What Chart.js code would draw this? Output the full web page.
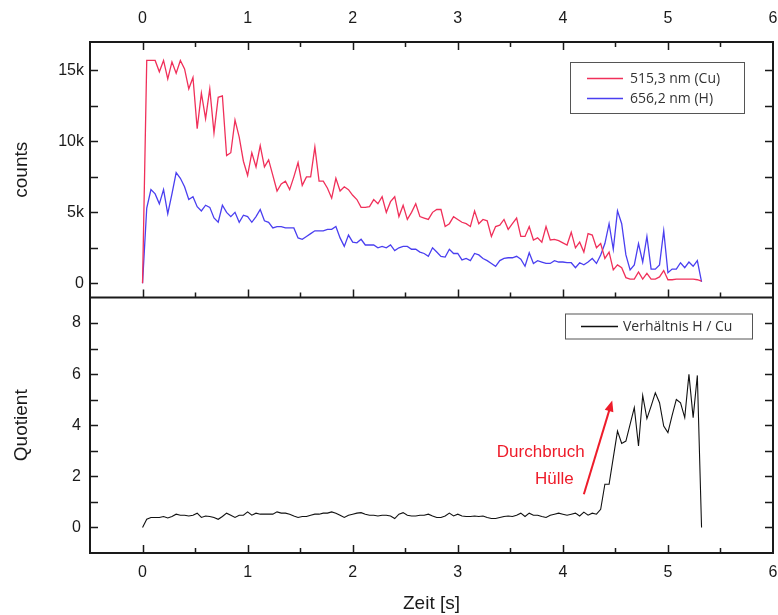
<!DOCTYPE html>
<html>
<head>
<meta charset="utf-8">
<script src="https://cdn.jsdelivr.net/npm/chart.js@4.4.0/dist/chart.umd.min.js"></script>
<style>
  html, body { margin: 0; padding: 0; background: #fff; }
  #wrap { width: 778px; height: 615px; }
</style>
</head>
<body>
<div id="wrap"><canvas id="chart" width="778" height="615"></canvas></div>
<script>
// Zeit in s
const timeSec = [
  0, 0.04, 0.08, 0.12, 0.16, 0.20, 0.24, 0.28, 0.32, 0.36,
  0.40, 0.44, 0.48, 0.52, 0.56, 0.60, 0.64, 0.68, 0.72, 0.76,
  0.80, 0.84, 0.88, 0.92, 0.96, 1.00, 1.04, 1.08, 1.12, 1.16,
  1.20, 1.24, 1.28, 1.32, 1.36, 1.40, 1.44, 1.48, 1.52, 1.56,
  1.60, 1.64, 1.68, 1.72, 1.76, 1.80, 1.84, 1.88, 1.92, 1.96,
  2.00, 2.04, 2.08, 2.12, 2.16, 2.20, 2.24, 2.28, 2.32, 2.36,
  2.40, 2.44, 2.48, 2.52, 2.56, 2.60, 2.64, 2.68, 2.72, 2.76,
  2.80, 2.84, 2.88, 2.92, 2.96, 3.00, 3.04, 3.08, 3.12, 3.16,
  3.20, 3.24, 3.28, 3.32, 3.36, 3.40, 3.44, 3.48, 3.52, 3.56,
  3.60, 3.64, 3.68, 3.72, 3.76, 3.80, 3.84, 3.88, 3.92, 3.96,
  4.00, 4.04, 4.08, 4.12, 4.16, 4.20, 4.24, 4.28, 4.32, 4.36,
  4.40, 4.44, 4.48, 4.52, 4.56, 4.60, 4.64, 4.68, 4.72, 4.76,
  4.80, 4.84, 4.88, 4.92, 4.96, 5.00, 5.04, 5.08, 5.12, 5.16,
  5.20, 5.24, 5.28, 5.32
];

// 515,3 nm (Cu)
const cuCounts = [
  0, 15700, 15700, 15700, 14900, 15700, 14400, 15600, 14800, 15700,
  15100, 13700, 14500, 10900, 13400, 11600, 13700, 10600, 13100, 13200,
  9000, 9200, 11500, 10300, 8600, 7600, 9200, 8200, 9700, 8200,
  8700, 7600, 6500, 7000, 7200, 6600, 7500, 8500, 6900, 7500,
  7500, 9600, 7200, 7200, 6700, 6000, 7400, 6500, 6800, 6600,
  6200, 5900, 5350, 5350, 5400, 5900, 5600, 6100, 5000, 5750,
  6100, 4700, 5500, 4500, 5000, 5600, 4700, 4600, 4500, 5000,
  5200, 5200, 4000, 4200, 4700, 4500, 4300, 4200, 4000, 5100,
  4200, 4500, 4400, 3300, 4000, 4100, 4500, 3800, 4200, 4600,
  3300, 3300, 4000, 3050, 3200, 2900, 4000, 3050, 3100, 3000,
  2850, 2700, 3600, 2500, 2900, 2200, 3500, 3400, 2500, 2800,
  1750, 2200, 950, 1300, 1100, 400, 300, 300, 800, 300,
  700, 300, 300, 450, 900, 250, 250, 300, 300, 300,
  300, 300, 250, 150
];

// 656,2 nm (H)
const hCounts = [
  0, 5300, 6600, 6300, 5600, 6600, 4900, 6300, 7800, 7400,
  6800, 5900, 6100, 5400, 5100, 5500, 5350, 4600, 4300, 5500,
  5000, 4700, 5000, 4300, 4800, 4700, 4300, 4700, 5200, 4400,
  4300, 3900, 4000, 4000, 3900, 3900, 3900, 3200, 3100, 3300,
  3500, 3700, 3700, 3700, 3800, 3800, 4000, 3200, 2600, 3400,
  2900, 2850, 3100, 2700, 2700, 2700, 2500, 2600, 2500, 2700,
  2300, 2500, 2600, 2600, 2400, 2400, 2200, 2100, 1900, 2500,
  2200, 1900, 1850, 2400, 2100, 2100, 1650, 1750, 1600, 2100,
  2000, 1750, 1600, 1400, 1200, 1600, 1750, 1800, 1800, 1900,
  1700, 1200, 2150, 1400, 1600, 1500, 1400, 1400, 1600, 1500,
  1500, 1450, 1450, 1100, 1450, 1300, 1500, 1750, 1400, 2000,
  2800, 4200, 2400, 5100, 4200, 2000, 950, 1300, 2800, 1500,
  3300, 1000, 1000, 1300, 3700, 750, 1000, 1000, 1450, 1100,
  1500, 1200, 1600, 100
];

// Verhältnis H / Cu
const ratioHCu = [
  0, 0.32, 0.39, 0.39, 0.39, 0.43, 0.37, 0.43, 0.52, 0.48,
  0.48, 0.45, 0.48, 0.56, 0.39, 0.45, 0.43, 0.39, 0.32, 0.43,
  0.56, 0.48, 0.39, 0.48, 0.48, 0.61, 0.48, 0.56, 0.52, 0.52,
  0.52, 0.52, 0.61, 0.56, 0.56, 0.52, 0.45, 0.39, 0.43, 0.43,
  0.48, 0.52, 0.52, 0.56, 0.56, 0.61, 0.56, 0.48, 0.39, 0.48,
  0.52, 0.56, 0.58, 0.52, 0.48, 0.48, 0.45, 0.48, 0.48, 0.45,
  0.35, 0.52, 0.58, 0.48, 0.45, 0.45, 0.48, 0.48, 0.52, 0.45,
  0.39, 0.39, 0.45, 0.56, 0.45, 0.52, 0.45, 0.43, 0.43, 0.45,
  0.43, 0.45, 0.39, 0.35, 0.35, 0.39, 0.43, 0.45, 0.43, 0.48,
  0.56, 0.43, 0.56, 0.48, 0.48, 0.43, 0.39, 0.48, 0.52, 0.56,
  0.52, 0.48, 0.52, 0.56, 0.45, 0.60, 0.48, 0.56, 0.52, 0.71,
  1.69, 1.69, 2.73, 3.77, 3.29, 3.38, 4.03, 4.69, 3.19, 5.17,
  4.26, 4.75, 5.27, 4.88, 3.97, 3.71, 4.39, 5.01, 4.88, 4.30,
  5.99, 4.30, 5.95, 0
];

const xTicks = [0, 1, 2, 3, 4, 5, 6];
const xMinorTicks = [-0.5, 0.5, 1.5, 2.5, 3.5, 4.5, 5.5];
const countTicks = [0, 5000, 10000, 15000];
const countMinorTicks = [2500, 7500, 12500];
const ratioTicks = [0, 2, 4, 6, 8];
const ratioMinorTicks = [1, 3, 5, 7];

const seriesNames = ["515,3 nm (Cu)", "656,2 nm (H)", "Verhältnis H / Cu"];
const noteLines = ["Durchbruch", "Hülle"];

const RED = "#f0305a";
const BLUE = "#4a3ff0";
const INK = "#1a1a1a";
const AX_FONT = "'Liberation Sans', Arial, sans-serif";
const LEG_FONT = "'Open Sans', 'DejaVu Sans', sans-serif";

const pts = (ys) => timeSec.map((t, i) => ({ x: t, y: ys[i] }));
const fixTicks = (vals) => (scale) => { scale.ticks = vals.map((v) => ({ value: v })); };
const noPad = (s) => { s.paddingLeft = 0; s.paddingRight = 0; s.paddingTop = 0; s.paddingBottom = 0; };

// Rahmen, Striche nach innen, Legenden, Anmerkung
const decor = {
  id: "decor",
  afterDraw(chart) {
    const { ctx, chartArea: a, scales } = chart;
    const x = scales.x, yc = scales.y, yq = scales.yq;
    const mid = yc.bottom;
    ctx.save();
    ctx.strokeStyle = INK;

    // ticks
    ctx.lineWidth = 1.5;
    ctx.beginPath();
    const xt = (vals, len) => vals.forEach((v) => {
      const px = Math.round(x.getPixelForValue(v)) + 0.5;
      if (px <= a.left + 1 || px >= a.right - 1) return;
      ctx.moveTo(px, a.top); ctx.lineTo(px, a.top + len);
      ctx.moveTo(px, mid); ctx.lineTo(px, mid - len);
      ctx.moveTo(px, a.bottom); ctx.lineTo(px, a.bottom - len);
    });
    xt(xTicks, 8); xt(xMinorTicks, 5);
    const yt = (scale, vals, len) => vals.forEach((v) => {
      const py = Math.round(scale.getPixelForValue(v)) + 0.5;
      ctx.moveTo(a.left, py); ctx.lineTo(a.left + len, py);
      ctx.moveTo(a.right, py); ctx.lineTo(a.right - len, py);
    });
    yt(yc, countTicks, 8); yt(yc, countMinorTicks, 8);
    yt(yq, ratioTicks, 8); yt(yq, ratioMinorTicks, 8);
    ctx.stroke();

    // frame
    ctx.lineWidth = 2;
    ctx.strokeRect(a.left, a.top, a.right - a.left, a.bottom - a.top);
    ctx.beginPath();
    ctx.moveTo(a.left, mid); ctx.lineTo(a.right, mid);
    ctx.stroke();

    // legends
    const legend = (x0, y0, w, h, rows) => {
      ctx.fillStyle = "#fff";
      ctx.fillRect(x0, y0, w, h);
      ctx.strokeStyle = "#555";
      ctx.lineWidth = 1;
      ctx.strokeRect(x0 + 0.5, y0 + 0.5, w, h);
      ctx.font = "14px " + LEG_FONT;
      ctx.textBaseline = "middle";
      ctx.textAlign = "left";
      rows.forEach((r) => {
        const ly = Math.round(y0 + r.dy) + 0.5;
        ctx.strokeStyle = r.color;
        ctx.lineWidth = 1.4;
        ctx.beginPath();
        ctx.moveTo(x0 + r.l0, ly); ctx.lineTo(x0 + r.l1, ly);
        ctx.stroke();
        ctx.fillStyle = "#333";
        ctx.fillText(r.text, x0 + r.tx, ly + 1);
      });
    };
    legend(a.right - 203, a.top + 20, 174, 51, [
      { dy: 15.5, l0: 17, l1: 53, tx: 60, color: RED, text: seriesNames[0] },
      { dy: 36, l0: 17, l1: 53, tx: 60, color: BLUE, text: seriesNames[1] }
    ]);
    legend(a.right - 208, mid + 16, 187, 25, [
      { dy: 12.5, l0: 16, l1: 53, tx: 58, color: "#111", text: seriesNames[2] }
    ]);

    // Anmerkung: Durchbruch Hülle
    ctx.fillStyle = "#ee1c2a";
    ctx.strokeStyle = "#ee1c2a";
    ctx.font = "17px " + AX_FONT;
    ctx.textAlign = "center";
    ctx.textBaseline = "middle";
    ctx.fillText(noteLines[0], x.getPixelForValue(3.79), yq.getPixelForValue(2.93));
    ctx.fillText(noteLines[1], x.getPixelForValue(3.92), yq.getPixelForValue(1.89));
    const ax0 = x.getPixelForValue(4.2), ay0 = yq.getPixelForValue(1.3);
    const ax1 = x.getPixelForValue(4.47), ay1 = yq.getPixelForValue(4.97);
    const ang = Math.atan2(ay1 - ay0, ax1 - ax0);
    ctx.lineWidth = 2;
    ctx.beginPath();
    ctx.moveTo(ax0, ay0);
    ctx.lineTo(ax1 - 8 * Math.cos(ang), ay1 - 8 * Math.sin(ang));
    ctx.stroke();
    ctx.beginPath();
    ctx.moveTo(ax1, ay1);
    ctx.lineTo(ax1 - 11 * Math.cos(ang) + 4.5 * Math.sin(ang), ay1 - 11 * Math.sin(ang) - 4.5 * Math.cos(ang));
    ctx.lineTo(ax1 - 11 * Math.cos(ang) - 4.5 * Math.sin(ang), ay1 - 11 * Math.sin(ang) + 4.5 * Math.cos(ang));
    ctx.closePath();
    ctx.fill();
    ctx.restore();
  }
};

const tickFont = { family: AX_FONT, size: 16 };
const titleFont = { family: AX_FONT, size: 19 };

new Chart(document.getElementById("chart"), {
  type: "line",
  data: {
    datasets: [
      { label: seriesNames[0], data: pts(cuCounts), borderColor: RED, borderWidth: 1.3, pointRadius: 0, xAxisID: "x", yAxisID: "y" },
      { label: seriesNames[1], data: pts(hCounts), borderColor: BLUE, borderWidth: 1.3, pointRadius: 0, xAxisID: "x", yAxisID: "y" },
      { label: seriesNames[2], data: pts(ratioHCu), borderColor: "#111", borderWidth: 1.1, pointRadius: 0, xAxisID: "x", yAxisID: "yq" }
    ]
  },
  options: {
    responsive: false,
    animation: false,
    events: [],
    layout: { padding: { left: 0, right: 5, top: 0, bottom: 0 } },
    plugins: { legend: { display: false }, tooltip: { enabled: false } },
    scales: {
      x: {
        type: "linear", position: "bottom", min: -0.5, max: 6,
        afterBuildTicks: fixTicks(xTicks),
        afterFit: (s) => { s.height = 62; noPad(s); },
        grid: { display: false, drawTicks: false },
        border: { display: false },
        ticks: { font: tickFont, color: INK, padding: 10, maxRotation: 0 },
        title: { display: true, text: "Zeit [s]", font: titleFont, color: INK, padding: { top: 0, bottom: 0 } }
      },
      xt: {
        type: "linear", position: "top", min: -0.5, max: 6,
        afterBuildTicks: fixTicks(xTicks),
        afterFit: (s) => { s.height = 42; noPad(s); },
        grid: { display: false, drawTicks: false },
        border: { display: false },
        ticks: { font: tickFont, color: INK, padding: 14, maxRotation: 0 }
      },
      yq: {
        type: "linear", position: "left", stack: "panels", stackWeight: 1,
        min: -1, max: 9,
        afterBuildTicks: fixTicks(ratioTicks),
        afterFit: (s) => { s.width = 90; noPad(s); },
        grid: { display: false, drawTicks: false },
        border: { display: false },
        ticks: { font: tickFont, color: INK, padding: 9 },
        title: { display: true, text: "Quotient", font: titleFont, color: INK, padding: { top: 10, bottom: 0 } }
      },
      y: {
        type: "linear", position: "left", stack: "panels", stackWeight: 1,
        min: -1000, max: 17000,
        afterBuildTicks: fixTicks(countTicks),
        afterFit: (s) => { s.width = 90; noPad(s); },
        grid: { display: false, drawTicks: false },
        border: { display: false },
        ticks: { font: tickFont, color: INK, padding: 6, callback: (v) => v === 0 ? "0" : (v / 1000) + "k" },
        title: { display: true, text: "counts", font: titleFont, color: INK, padding: { top: 10, bottom: 0 } }
      }
    }
  },
  plugins: [decor]
});
</script>
</body>
</html>
